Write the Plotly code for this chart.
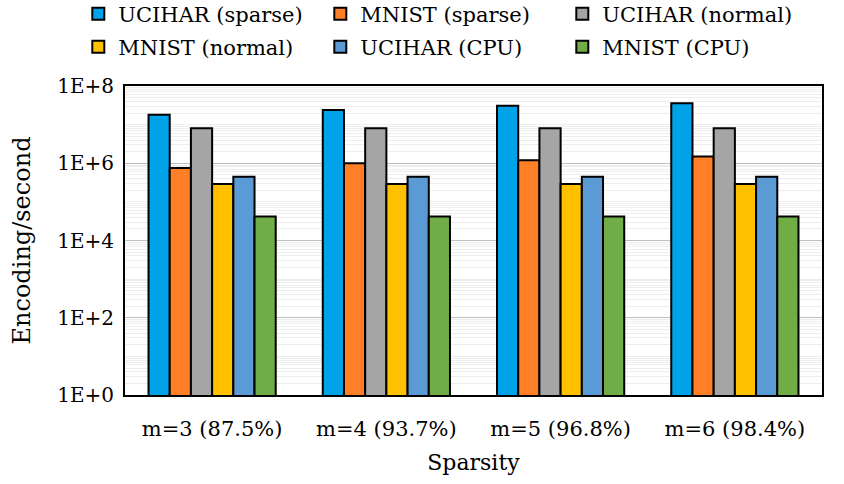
import plotly.graph_objects as go

categories = ["m=3 (87.5%)", "m=4 (93.7%)", "m=5 (96.8%)", "m=6 (98.4%)"]
series_names = ["UCIHAR (sparse)", "MNIST (sparse)", "UCIHAR (normal)",
                "MNIST (normal)", "UCIHAR (CPU)", "MNIST (CPU)"]
ucihar_sparse = [1.8e7, 2.4e7, 3.1e7, 3.6e7]
mnist_sparse = [7.5e5, 1.0e6, 1.2e6, 1.5e6]
ucihar_normal = [8.1e6, 8.1e6, 8.1e6, 8.1e6]
mnist_normal = [2.9e5, 2.9e5, 2.9e5, 2.9e5]
ucihar_cpu = [4.5e5, 4.5e5, 4.5e5, 4.5e5]
mnist_cpu = [4.2e4, 4.2e4, 4.2e4, 4.2e4]
colors = ["#00A2E8", "#FF7F27", "#A5A5A5", "#FFC000", "#5B9BD5", "#70AD47"]
tick_vals = [1, 1e2, 1e4, 1e6, 1e8]
tick_text = ["1E+0", "1E+2", "1E+4", "1E+6", "1E+8"]

values = [ucihar_sparse, mnist_sparse, ucihar_normal, mnist_normal, ucihar_cpu, mnist_cpu]
FONT = "DejaVu Serif"

fig = go.Figure()
for i, (name, vals, col) in enumerate(zip(series_names, values, colors)):
    fig.add_trace(go.Bar(x=categories, y=vals, name=name,
                         legend="legend" if i < 3 else "legend2",
                         marker=dict(color=col, line=dict(color="black", width=2))))

leg_common = dict(orientation="h", xanchor="left", yanchor="middle",
                  entrywidth=197, entrywidthmode="pixels",
                  font=dict(family=FONT, size=21, color="black"),
                  bgcolor="rgba(0,0,0,0)", borderwidth=0)

fig.update_layout(
    width=844, height=484,
    margin=dict(l=125, r=22, t=86, b=89, autoexpand=False),
    paper_bgcolor="white", plot_bgcolor="white",
    barmode="group", bargap=0.27, bargroupgap=0,
    font=dict(family=FONT, size=20, color="black"),
    legend=dict(x=-0.067, y=(395 - 14) / 309, **leg_common),
    legend2=dict(x=-0.067, y=(395 - 47) / 309, **leg_common),
    xaxis=dict(showline=True, linecolor="black", linewidth=2, mirror=True,
               ticks="outside", ticklen=14, tickcolor="rgba(0,0,0,0)",
               tickfont=dict(size=21),
               title=dict(text="Sparsity", font=dict(size=22), standoff=14)),
    yaxis=dict(type="log", range=[0, 8], tickvals=tick_vals, ticktext=tick_text,
               showline=True, linecolor="black", linewidth=2, mirror=True,
               showgrid=True, gridcolor="#BFBFBF", gridwidth=1,
               minor=dict(dtick="D1", showgrid=True, gridcolor="#EDEDED", gridwidth=1),
               tickfont=dict(size=20), ticks="outside", ticklen=5,
               tickcolor="rgba(0,0,0,0)",
               title=dict(text="Encoding/second", font=dict(size=24), standoff=20)),
)

fig.write_html("out.html", config={"displayModeBar": False},
               post_script="document.body.style.margin='0';")
